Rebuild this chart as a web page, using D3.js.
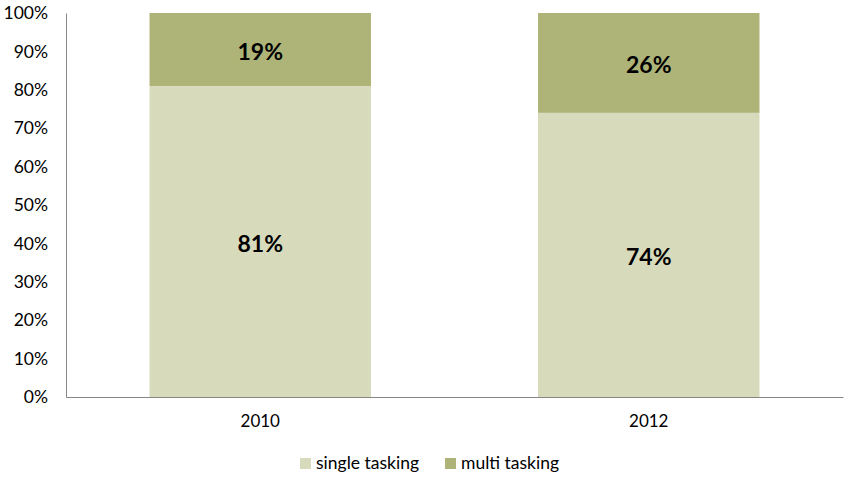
<!DOCTYPE html>
<html>
<head>
<meta charset="utf-8">
<script src="https://cdn.jsdelivr.net/npm/d3@7"></script>
<style>
  body { margin: 0; background: #fff; }
  svg text { font-family: Lato, "Open Sans", sans-serif; fill: #000; }
</style>
</head>
<body>
<div id="chart"></div>
<script>
const years = ['2010', '2012']
const seriesNames = ['single tasking', 'multi tasking']
const singleTasking = [81, 74]
const multiTasking = [19, 26]
const yTicks = [0, 10, 20, 30, 40, 50, 60, 70, 80, 90, 100]

const colors = ['#d7dabb', '#aeb478']

const width = 852
const height = 477
const margin = { top: 13, right: 9, bottom: 80, left: 66 }

const svg = d3.select('#chart')
    .append('svg')
    .attr('width', width)
    .attr('height', height)

const x = d3.scaleBand()
    .domain(years)
    .range([margin.left, width - margin.right])
    .paddingInner(0.43)
    .paddingOuter(0.215)

const y = d3.scaleLinear()
    .domain([0, 100])
    .range([height - margin.bottom, margin.top])

const rows = years.map((yr, i) => ({ year: yr, single: singleTasking[i], multi: multiTasking[i] }))
const stack = d3.stack().keys(['single', 'multi'])(rows)

const layer = svg.selectAll('.layer')
    .data(stack)
    .enter().append('g')
    .attr('class', 'layer')
    .attr('fill', (d, i) => colors[i])

layer.selectAll('rect')
    .data(d => d)
    .enter().append('rect')
    .attr('x', d => x(d.data.year))
    .attr('y', d => y(d[1]))
    .attr('width', x.bandwidth())
    .attr('height', d => y(d[0]) - y(d[1]))

layer.selectAll('text')
    .data(d => d)
    .enter().append('text')
    .attr('x', d => x(d.data.year) + x.bandwidth() / 2)
    .attr('y', d => (y(d[0]) + y(d[1])) / 2)
    .attr('dy', '0.45em')
    .attr('text-anchor', 'middle')
    .style('font-size', '23px')
    .style('font-weight', 'bold')
    .text(d => (d[1] - d[0]) + '%')

// y axis
const yAxis = svg.append('g')
    .attr('transform', `translate(${margin.left},0)`)
    .call(d3.axisLeft(y).tickValues(yTicks).tickSize(0).tickPadding(18).tickFormat(d => d + '%'))
yAxis.select('.domain').attr('stroke', '#868686')
yAxis.selectAll('text').style('font-size', '17.5px').style('font-family', 'Lato, sans-serif')

// x axis
const xAxis = svg.append('g')
    .attr('transform', `translate(0,${height - margin.bottom})`)
    .call(d3.axisBottom(x).tickSize(0).tickPadding(18))
xAxis.select('.domain').attr('stroke', '#868686')
xAxis.selectAll('text').style('font-size', '17px').style('font-family', 'Lato, sans-serif')

// legend
const legendX = [300, 445]
const legend = svg.selectAll('.legend')
    .data(seriesNames)
    .enter().append('g')
    .attr('class', 'legend')
    .attr('transform', (d, i) => `translate(${legendX[i]}, 458)`)

legend.append('rect')
    .attr('width', 11)
    .attr('height', 11)
    .attr('fill', (d, i) => colors[i])

legend.append('text')
    .attr('x', 16)
    .attr('y', 11)
    .style('font-size', '17.5px')
    .text(d => d)
</script>
</body>
</html>
